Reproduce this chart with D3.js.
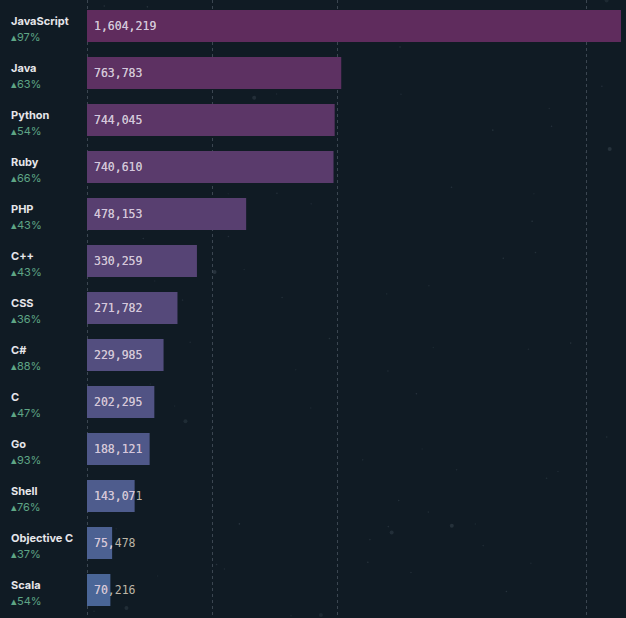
<!DOCTYPE html>
<html>
<head>
<meta charset="utf-8">
<script src="https://cdn.jsdelivr.net/npm/d3@7"></script>
<style>
  html, body { margin: 0; padding: 0; background: #101b24; }
  svg { display: block; }
</style>
</head>
<body>
<svg></svg>
<script>
//svg size
const width = 626;
const height = 618;

//data
var languages = ['JavaScript', 'Java', 'Python', 'Ruby', 'PHP', 'C++', 'CSS', 'C#', 'C', 'Go', 'Shell', 'Objective C', 'Scala'];
var repos = [1604219, 763783, 744045, 740610, 478153, 330259, 271782, 229985, 202295, 188121, 143071, 75478, 70216];
var growth = [97, 63, 54, 66, 43, 43, 36, 88, 47, 93, 76, 37, 54];
var gridValues = [0, 375000, 750000, 1500000];

//colours
var bg_col = '#101b24';
var top_col = '#5f2c5d';   //purple for the biggest
var bottom_col = '#4a6697'; //blue for the smallest
var grid_col = '#3b4651';
var name_col = '#e6e6ea';
var pct_col = '#5ea585';
var val_in_col = '#d4c6df';
var val_out_col = '#bdb6a7';

var svg = d3.select('svg')
    .attr('width', width)
    .attr('height', height);

svg.append('rect')
   .attr('width', width)
   .attr('height', height)
   .attr('fill', bg_col);

//faint dust in the background (decoration only)
var rnd = d3.randomLcg(7);
var dust = svg.append('g').attr('class', 'dust');
for (var i = 0; i < 90; i++) {
    dust.append('circle')
        .attr('cx', 90 + rnd() * 530)
        .attr('cy', rnd() * height)
        .attr('r', rnd() < 0.85 ? 0.8 : 2)
        .attr('fill', '#8a9aa8')
        .attr('opacity', 0.08 + rnd() * 0.12);
}

//scales
var x = d3.scaleLinear().domain([0, 1604219]).range([87, 621]);
var y = d3.scaleBand().domain(languages).range([10, 606]).paddingInner(15 / 47).paddingOuter(0);
var colour = function(i) { return d3.interpolateRgb(top_col, bottom_col)(i / (languages.length - 1)); };

//grid lines
svg.append('g').attr('class', 'grid')
   .selectAll('line')
   .data(gridValues)
   .join('line')
   .attr('x1', d => Math.round(x(d)) + 0.5)
   .attr('x2', d => Math.round(x(d)) + 0.5)
   .attr('y1', 0)
   .attr('y2', height)
   .attr('stroke', grid_col)
   .attr('stroke-width', 1)
   .attr('stroke-dasharray', '3,3');

var defs = svg.append('defs');

var rows = svg.append('g').attr('class', 'rows')
    .selectAll('g')
    .data(languages)
    .join('g');

//bars
rows.append('rect')
    .attr('x', x(0))
    .attr('y', d => y(d))
    .attr('width', (d, i) => x(repos[i]) - x(0))
    .attr('height', y.bandwidth())
    .attr('fill', (d, i) => colour(i));

//clip paths so the value text changes colour outside the bar
rows.each(function(d, i) {
    defs.append('clipPath').attr('id', 'clip' + i)
        .append('rect')
        .attr('x', x(0))
        .attr('y', y(d))
        .attr('width', x(repos[i]) - x(0))
        .attr('height', y.bandwidth());
});

var fmt = d3.format(',');

//value text outside colour
rows.append('text')
    .attr('x', x(0) + 7)
    .attr('y', d => y(d) + y.bandwidth() / 2 + 4)
    .attr('font-family', 'DejaVu Sans Mono, monospace')
    .attr('font-size', 11.5)
    .attr('fill', val_out_col)
    .text((d, i) => fmt(repos[i]));

//value text inside colour
rows.append('text')
    .attr('x', x(0) + 7)
    .attr('y', d => y(d) + y.bandwidth() / 2 + 4)
    .attr('font-family', 'DejaVu Sans Mono, monospace')
    .attr('font-size', 11.5)
    .attr('fill', val_in_col)
    .attr('clip-path', (d, i) => 'url(#clip' + i + ')')
    .text((d, i) => fmt(repos[i]));

//language names
rows.append('text')
    .attr('x', 11)
    .attr('y', d => y(d) + 15)
    .attr('font-family', 'Inter, sans-serif')
    .attr('font-weight', 700)
    .attr('font-size', 11)
    .attr('fill', name_col)
    .text(d => d);

//growth
rows.append('text')
    .attr('x', 11)
    .attr('y', d => y(d) + 31)
    .attr('font-family', 'Inter, sans-serif')
    .attr('font-size', 11)
    .attr('fill', pct_col)
    .text((d, i) => '\u25B4' + growth[i] + '%');
</script>
</body>
</html>
